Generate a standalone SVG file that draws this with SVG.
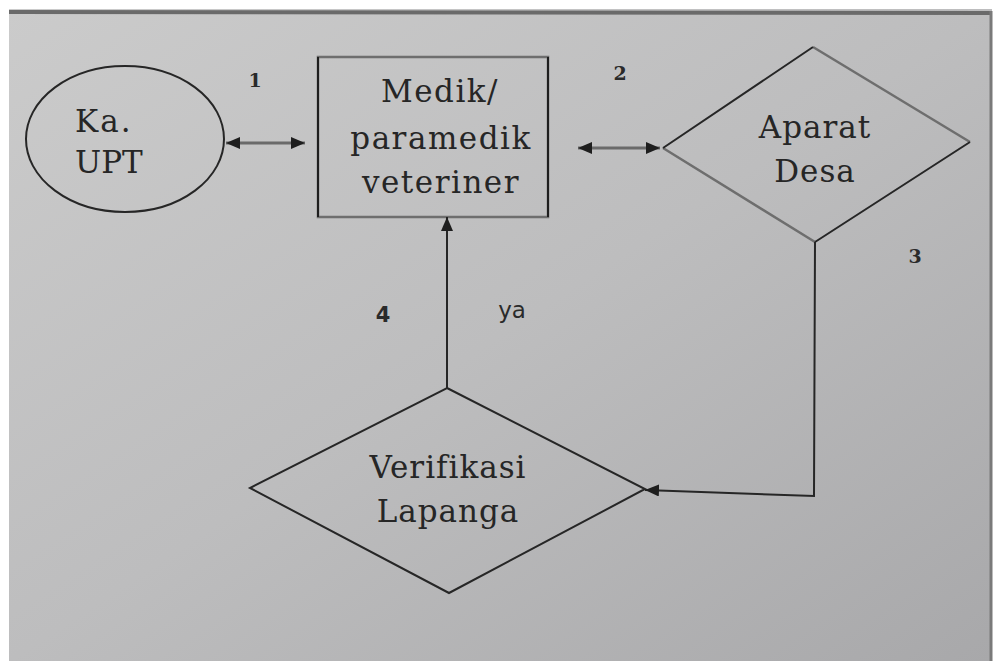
<svg xmlns="http://www.w3.org/2000/svg" width="997" height="661" viewBox="0 0 997 661">
  <defs>
    <linearGradient id="paper" x1="0" y1="0" x2="1" y2="1">
      <stop offset="0" stop-color="#cbcbcb"/>
      <stop offset="0.5" stop-color="#bdbdbe"/>
      <stop offset="1" stop-color="#a8a8aa"/>
    </linearGradient>
    <marker id="ah" viewBox="0 0 14 12" refX="14" refY="6" markerWidth="14" markerHeight="12" markerUnits="userSpaceOnUse" orient="auto-start-reverse">
      <path d="M0,0 L14,6 L0,12 Z" fill="#1e1e1e"/>
    </marker>
    <style>
      .shape { fill: none; stroke: #262626; stroke-width: 2; }
      .soft { fill: none; stroke: #6e6e6e; stroke-width: 2.5; }
      .lbl { font-family: "DejaVu Serif", "Liberation Serif", serif; font-size: 31px; fill: #262626; }
      .num { font-family: "DejaVu Serif", "Liberation Serif", serif; font-size: 19px; font-weight: bold; fill: #2a2a2a; }
      .sans { font-family: "DejaVu Sans", "Liberation Sans", sans-serif; fill: #2a2a2a; }
      .conn { fill: none; stroke: #262626; stroke-width: 2; }
      .conn-soft { fill: none; stroke: #6a6a6a; stroke-width: 3; }
    </style>
  </defs>

  <rect x="0" y="0" width="997" height="661" fill="#ffffff"/>
  <rect x="9" y="9" width="983" height="652" fill="url(#paper)"/>
  <line x1="9" y1="12" x2="992" y2="13" stroke="#6a6a6a" stroke-width="4"/>
  <line x1="991" y1="11" x2="991" y2="661" stroke="#7a7a7a" stroke-width="3"/>

  <g id="ka-upt">
    <ellipse class="shape" cx="125" cy="139" rx="99" ry="73"/>
    <text class="lbl" x="75" y="132" font-size="33" letter-spacing="2">Ka.</text>
    <text class="lbl" x="75" y="173" font-size="33">UPT</text>
  </g>

  <g id="medik">
    <rect class="soft" x="318" y="57" width="230" height="160"/>
    <line x1="318" y1="57" x2="318" y2="217" stroke="#1e1e1e" stroke-width="2"/>
    <line x1="548" y1="57" x2="548" y2="217" stroke="#1e1e1e" stroke-width="2"/>
    <text class="lbl" x="440" y="102" text-anchor="middle" letter-spacing="1.5">Medik/</text>
    <text class="lbl" x="441" y="149" text-anchor="middle" letter-spacing="1.5">paramedik</text>
    <text class="lbl" x="441" y="193" text-anchor="middle" letter-spacing="1.5">veteriner</text>
  </g>

  <g id="aparat-desa">
    <path class="soft" d="M813,47 L970,142 M815,242 L663,148"/>
    <path class="shape" d="M663,148 L813,47 M970,142 L815,242"/>
    <text class="lbl" x="815" y="138" text-anchor="middle" letter-spacing="1">Aparat</text>
    <text class="lbl" x="815" y="182" text-anchor="middle" letter-spacing="1">Desa</text>
  </g>

  <g id="verifikasi">
    <path class="shape" d="M447,388 L645,489 L449,593 L250,488 Z"/>
    <text class="lbl" x="448" y="478" text-anchor="middle" letter-spacing="1">Verifikasi</text>
    <text class="lbl" x="448" y="522" text-anchor="middle" letter-spacing="1">Lapanga</text>
  </g>

  <g id="connectors">
    <line class="conn-soft" x1="226" y1="143" x2="305" y2="143" marker-start="url(#ah)" marker-end="url(#ah)"/>
    <line class="conn-soft" x1="578" y1="148" x2="660" y2="148" marker-start="url(#ah)" marker-end="url(#ah)"/>
    <polyline class="conn" points="815,242 814,496 645,490" marker-end="url(#ah)"/>
    <line class="conn" x1="447" y1="388" x2="447" y2="217" marker-end="url(#ah)"/>
  </g>

  <g id="labels">
    <text class="num" x="255" y="87" text-anchor="middle">1</text>
    <text class="num" x="620" y="80" text-anchor="middle">2</text>
    <text class="num" x="915" y="263" text-anchor="middle" font-size="21">3</text>
    <text class="sans" x="383" y="322" text-anchor="middle" font-size="21" font-weight="bold">4</text>
    <text class="sans" x="512" y="318" text-anchor="middle" font-size="23">ya</text>
  </g>
</svg>
